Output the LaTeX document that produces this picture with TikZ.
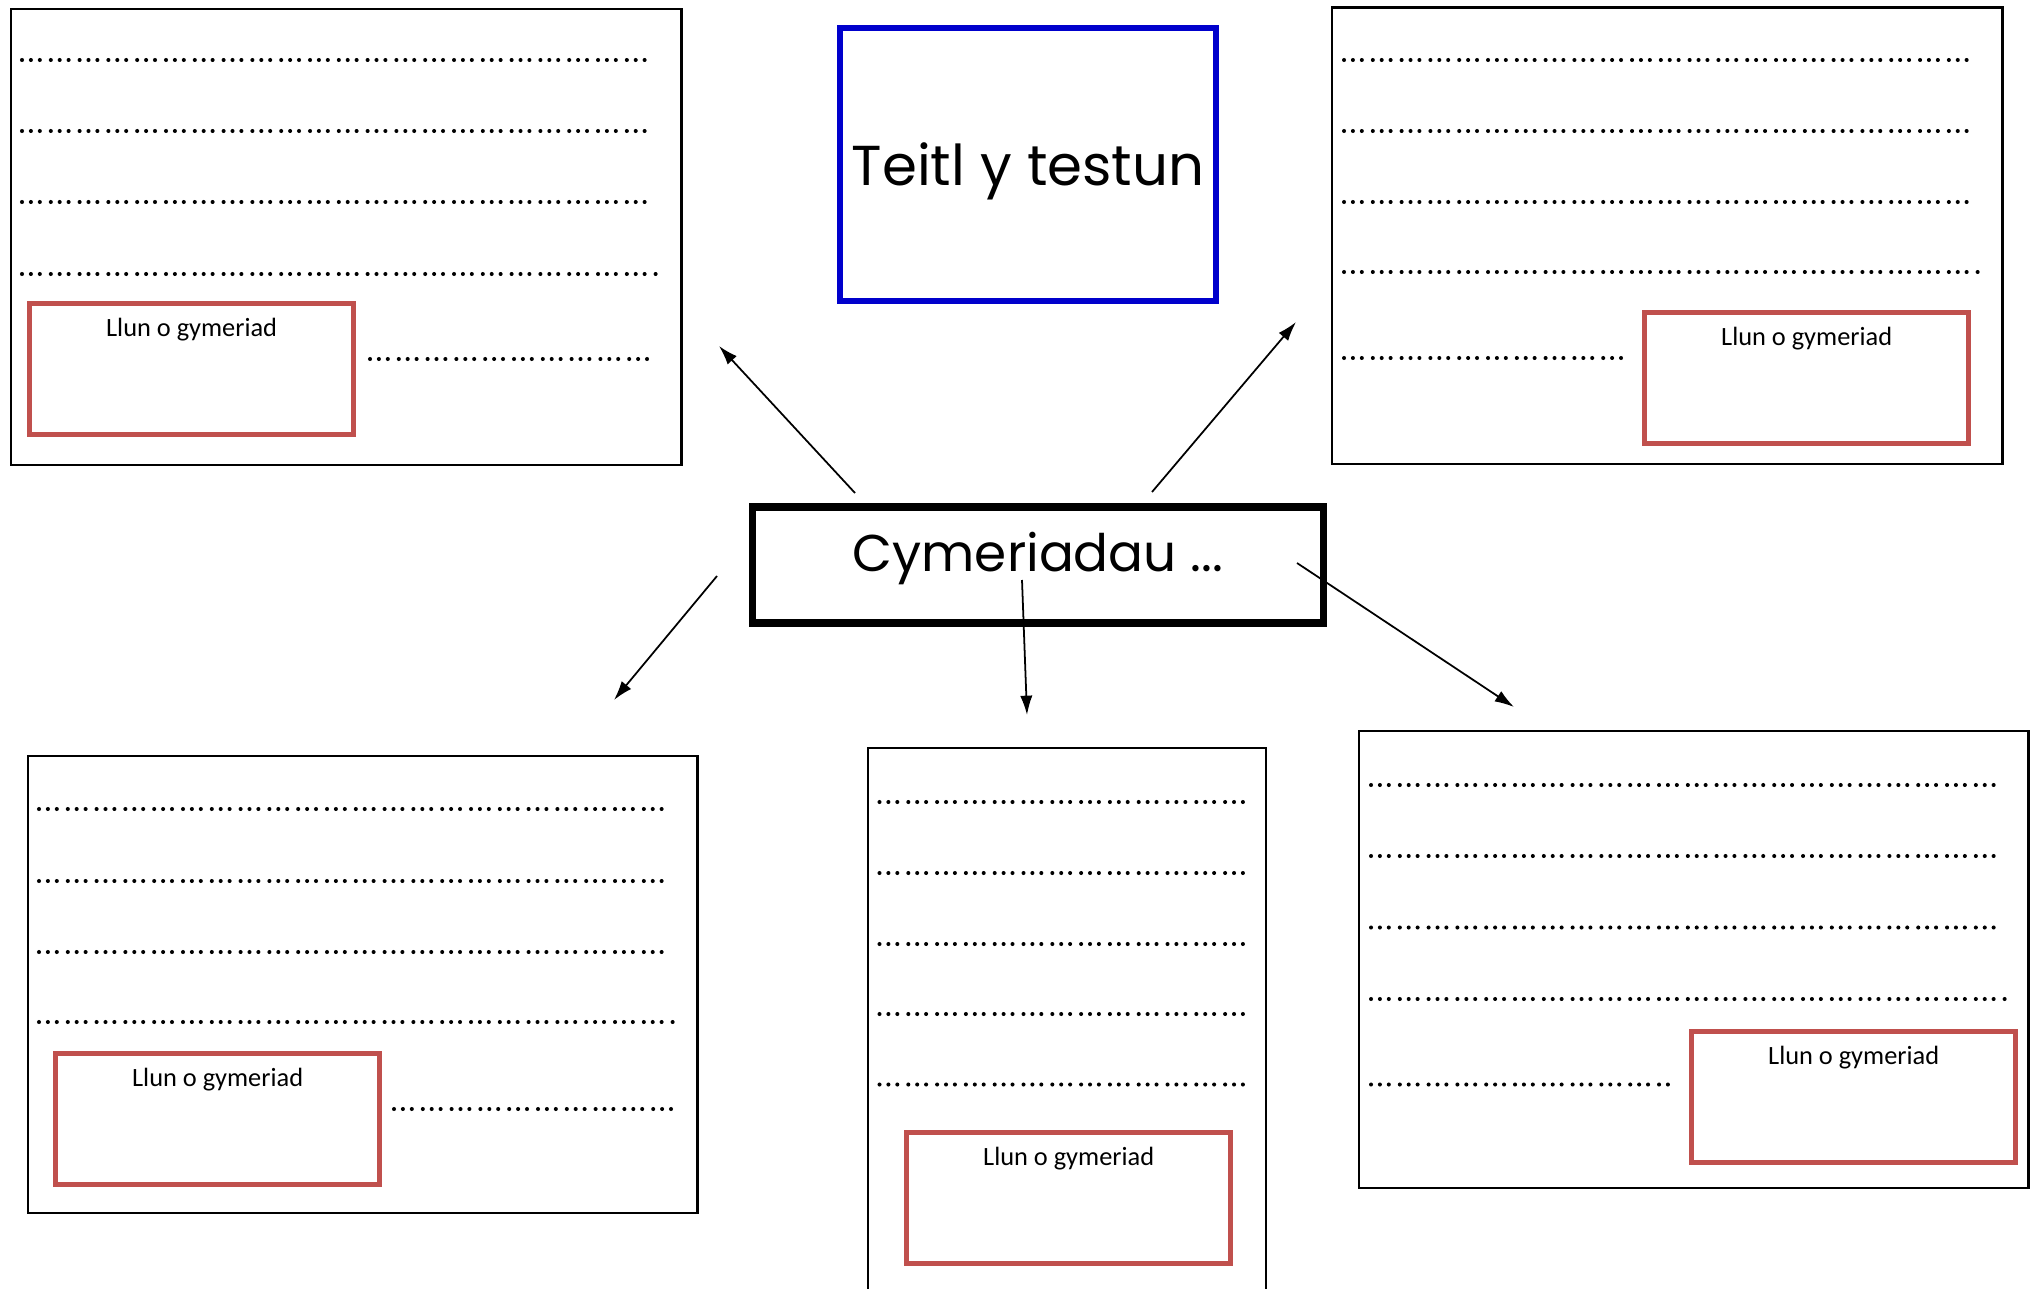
\documentclass[tikz,border=0pt]{standalone}
\usepackage{fontspec}
\setmainfont{Carlito}
\newfontfamily\comicfont{Poppins}
\usetikzlibrary{arrows.meta}
\definecolor{picred}{HTML}{C0504D}
\definecolor{titleblue}{HTML}{0000CC}

\begin{document}
\begin{tikzpicture}[x=0.01cm, y=-0.01cm,
  card/.style={draw, line width=0.6pt, anchor=north west, inner sep=0pt},
  picbox/.style={draw=picred, line width=1.45pt, anchor=north west, inner sep=0pt,
    minimum width=3.24cm, minimum height=1.305cm},
  pictext/.style={font=\fontsize{7.5}{9}\selectfont},
  dots/.style={line width=1.15pt, line cap=round,
    dash pattern=on 0pt off 2.53pt on 0pt off 2.53pt on 0pt off 3.13pt},
  arrow/.style={-{Latex[length=5.5pt,width=3.5pt]}, line width=0.5pt}]
  \useasboundingbox (0,0) rectangle (2034,1288);

  \node[draw=titleblue, line width=1.85pt, minimum width=3.755cm, minimum height=2.725cm,
    text depth=0cm, font=\comicfont\fontsize{16}{18}\selectfont] (title) at (1028,164.5) {Teitl y testun};
  \node[draw, line width=2.1pt, minimum width=5.71cm, minimum height=1.16cm,
    text depth=0.27cm, font=\comicfont\fontsize{14.7}{17}\selectfont] (cymer) at (1038,565) {Cymeriadau ...};

  % top left
  \node[card, minimum width=6.70cm, minimum height=4.56cm] (tl) at (10,8) {};
  \foreach \y in {60,131,202} \draw[dots] (22,\y) -- (651,\y);
  \draw[dots] (22,274) -- (663,274);
  \node[picbox] (tlpic) at (27,301) {};
  \node[pictext] (tllbl) at ([yshift=-0.29cm]tlpic.north) {Llun o gymeriad};
  \draw[dots] (370,359) -- (656,359);

  % top right
  \node[card, minimum width=6.70cm, minimum height=4.56cm] (tr) at (1331,6.5) {};
  \foreach \y in {60,131,202} \draw[dots] (1344,\y) -- (1973,\y);
  \draw[dots] (1344,272) -- (1983,272);
  \draw[dots] (1344,358) -- (1627,358);
  \node[picbox] (trpic) at (1642,310) {};
  \node[pictext] (trlbl) at ([yshift=-0.29cm]trpic.north) {Llun o gymeriad};

  % bottom left
  \node[card, minimum width=6.69cm, minimum height=4.57cm] (bl) at (27,755) {};
  \foreach \y in {809,881,952} \draw[dots] (39,\y) -- (668,\y);
  \draw[dots] (39,1022) -- (678,1022);
  \node[picbox] (blpic) at (53,1051) {};
  \node[pictext] (bllbl) at ([yshift=-0.29cm]blpic.north) {Llun o gymeriad};
  \draw[dots] (394,1109) -- (681,1109);

  % bottom middle
  \node[card, minimum width=3.985cm, minimum height=6cm] (bm) at (866.5,747) {};
  \foreach \y in {802,873,944,1014,1084.5} \draw[dots] (879.5,\y) -- (1248,\y);
  \node[picbox] (bmpic) at (904,1130) {};
  \node[pictext] (bmlbl) at ([yshift=-0.29cm]bmpic.north) {Llun o gymeriad};

  % bottom right
  \node[card, minimum width=6.69cm, minimum height=4.57cm] (br) at (1358,730) {};
  \foreach \y in {785,856,927.5} \draw[dots] (1371,\y) -- (1999,\y);
  \draw[dots] (1371,999) -- (2011,999);
  \draw[dots] (1371,1084.5) -- (1675,1084.5);
  \node[picbox] (brpic) at (1689,1029) {};
  \node[pictext] (brlbl) at ([yshift=-0.29cm]brpic.north) {Llun o gymeriad};

  % arrows
  \coordinate (tlfrom) at (855,493);   \coordinate (tlto) at (719,346);
  \coordinate (trfrom) at (1152,492);  \coordinate (trto) at (1296,322);
  \coordinate (blfrom) at (717,576);   \coordinate (blto) at (614,700);
  \coordinate (bmfrom) at (1022,580);  \coordinate (bmto) at (1027,715);
  \coordinate (brfrom) at (1297,563);  \coordinate (brto) at (1514,707);
  \draw[arrow] (tlfrom) -- (tlto);
  \draw[arrow] (trfrom) -- (trto);
  \draw[arrow] (blfrom) -- (blto);
  \draw[arrow] (bmfrom) -- (bmto);
  \draw[arrow] (brfrom) -- (brto);
\end{tikzpicture}
\end{document}
